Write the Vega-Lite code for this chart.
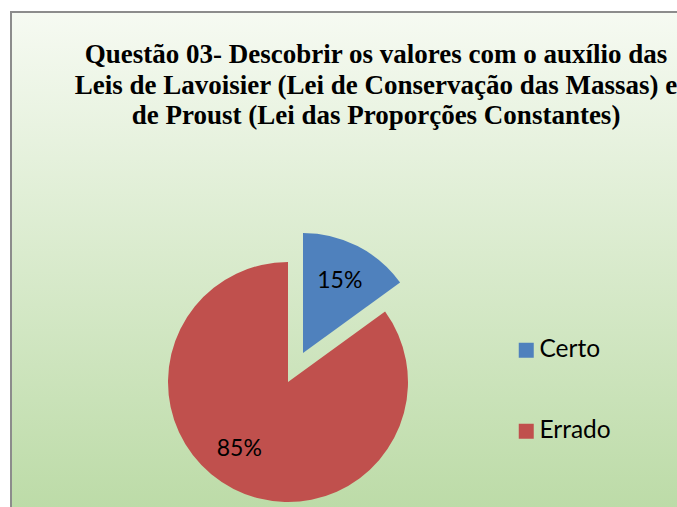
{
  "$schema": "https://vega.github.io/schema/vega-lite/v6.json",
  "width": 730,
  "height": 500,
  "autosize": "none",
  "padding": {"left": 11, "top": 12, "right": 0, "bottom": 0},
  "background": "white",
  "title": {
    "text": ["Questão 03- Descobrir os valores com o auxílio das", "Leis de Lavoisier (Lei de Conservação das Massas) e", "de Proust (Lei das Proporções Constantes)"],
    "font": "Liberation Serif",
    "fontSize": 27,
    "fontWeight": "bold",
    "lineHeight": 30.5,
    "color": "black",
    "anchor": "middle",
    "frame": "group",
    "orient": "top",
    "offset": -118
  },
  "data": {
    "values": [
      {"categoria": "Certo", "percentual": 15, "rotulo": "15%", "ordem": 1},
      {"categoria": "Errado", "percentual": 85, "rotulo": "85%", "ordem": 2}
    ]
  },
  "encoding": {
    "theta": {"field": "percentual", "type": "quantitative", "stack": true},
    "order": {"field": "ordem", "type": "quantitative"},
    "x": {"value": 277},
    "y": {"value": 370}
  },
  "layer": [
    {
      "mark": {"type": "arc", "outerRadius": 120, "stroke": null},
      "encoding": {
        "color": {
          "field": "categoria",
          "type": "nominal",
          "scale": {"domain": ["Certo", "Errado"], "range": ["#4f81bd", "#c0504d"]},
          "legend": {
            "orient": "none",
            "legendX": 503,
            "legendY": 326,
            "title": null,
            "symbolType": "square",
            "symbolSize": 225,
            "symbolStrokeWidth": 0,
            "symbolOpacity": 1,
            "labelFont": "Lato",
            "labelFontSize": 24.5,
            "labelColor": "black",
            "labelOffset": 1,
            "rowPadding": 56,
            "padding": 0
          }
        },
        "opacity": {"condition": {"test": "datum.categoria == 'Certo'", "value": 0}, "value": 1}
      }
    },
    {
      "mark": {"type": "arc", "outerRadius": 120, "stroke": null, "xOffset": 15, "yOffset": -29},
      "encoding": {
        "color": {"field": "categoria", "type": "nominal"},
        "opacity": {"condition": {"test": "datum.categoria == 'Errado'", "value": 0}, "value": 1}
      }
    },
    {
      "mark": {"type": "text", "radius": 81, "font": "Lato", "fontSize": 23, "color": "black", "xOffset": 15, "yOffset": -29},
      "encoding": {
        "text": {"field": "rotulo"},
        "opacity": {"condition": {"test": "datum.categoria == 'Errado'", "value": 0}, "value": 1}
      }
    },
    {
      "mark": {"type": "text", "radius": 83, "font": "Lato", "fontSize": 23, "color": "black", "dx": -11, "dy": -7},
      "encoding": {
        "text": {"field": "rotulo"},
        "opacity": {"condition": {"test": "datum.categoria == 'Certo'", "value": 0}, "value": 1}
      }
    }
  ],
  "config": {
    "view": {
      "stroke": "#8c8c8c",
      "strokeWidth": 2,
      "fill": {
        "gradient": "linear",
        "x1": 0, "y1": 0, "x2": 0, "y2": 1,
        "stops": [
          {"offset": 0, "color": "#f6faf2"},
          {"offset": 1, "color": "#bcdba7"}
        ]
      }
    }
  }
}
